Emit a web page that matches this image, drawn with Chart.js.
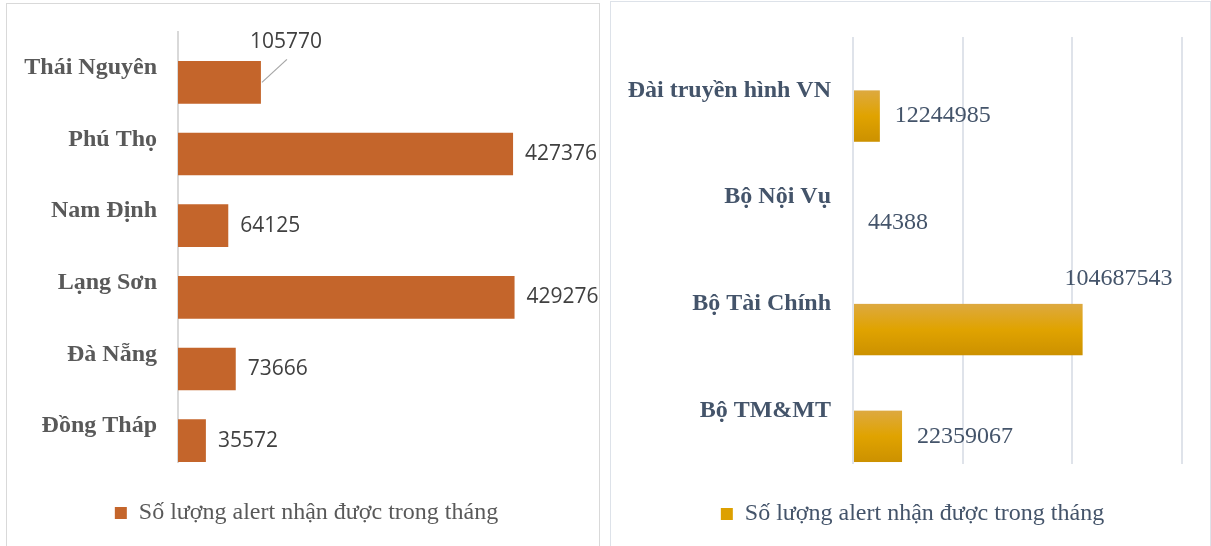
<!DOCTYPE html>
<html>
<head>
<meta charset="UTF-8">
<title>Số lượng alert nhận được trong tháng</title>
<script src="https://cdn.jsdelivr.net/npm/chart.js@4.4.1/dist/chart.umd.min.js"></script>
<style>
  html, body { margin: 0; padding: 0; background: #fff; overflow: hidden; width: 1211px; height: 546px; }
  .panel { position: absolute; height: 560px; }
  #leftPanel { left: 6px; top: 3px; width: 592px; border: 1px solid #d9d9d9; }
  #rightPanel { left: 610px; top: 1px; width: 599px; border: 1px solid #dde2e9; }
  canvas { display: block; }
</style>
</head>
<body>
<div class="panel" id="leftPanel"><canvas id="provinceChart" width="592" height="542"></canvas></div>
<div class="panel" id="rightPanel"><canvas id="agencyChart" width="599" height="544"></canvas></div>

<script>
const seriesName = 'Số lượng alert nhận được trong tháng';

const provinces = ['Thái Nguyên', 'Phú Thọ', 'Nam Định', 'Lạng Sơn', 'Đà Nẵng', 'Đồng Tháp'];
const provinceAlerts = [105770, 427376, 64125, 429276, 73666, 35572];
const provinceAxisMax = 500000;

const agencies = ['Đài truyền hình VN', 'Bộ Nội Vụ', 'Bộ Tài Chính', 'Bộ TM&MT'];
const agencyAlerts = [12244985, 44388, 104687543, 22359067];
const agencyTicks = [0, 50000000, 100000000, 150000000];

// value labels drawn next to each bar (some were moved by hand in the original)
const valueLabels = {
  id: 'valueLabels',
  afterDatasetsDraw(chart, args, opts) {
    const meta = chart.getDatasetMeta(opts.datasetIndex);
    const data = chart.data.datasets[opts.datasetIndex].data;
    const ctx = chart.ctx;
    ctx.save();
    ctx.font = opts.font;
    ctx.fillStyle = opts.color;
    ctx.textBaseline = 'middle';
    meta.data.forEach((el, i) => {
      const text = String(data[i]);
      const moved = opts.moved && opts.moved[i];
      if (moved) {
        const tx = el.x + moved.dx, ty = el.y + moved.dy;
        if (moved.leader) {
          ctx.strokeStyle = '#a6a6a6';
          ctx.lineWidth = 1.2;
          ctx.beginPath();
          ctx.moveTo(el.x + 1, el.y);
          ctx.lineTo(tx + 1, ty + 17);
          ctx.stroke();
        }
        ctx.textAlign = 'center';
        ctx.fillText(text, tx, ty);
      } else {
        ctx.textAlign = 'left';
        ctx.fillText(text, el.x + opts.offset, el.y);
      }
    });
    ctx.restore();
  }
};

// vertical gold gradient on the agency bars
const barGradient = {
  id: 'barGradient',
  afterDatasetDraw(chart, args, opts) {
    if (args.index !== opts.datasetIndex) return;
    const ctx = chart.ctx;
    args.meta.data.forEach(el => {
      const {x, y, base, height} = el.getProps(['x', 'y', 'base', 'height'], true);
      const w = Math.abs(x - base);
      if (w < 1) return;
      const top = y - height / 2;
      const g = ctx.createLinearGradient(0, top, 0, top + height);
      g.addColorStop(0, '#DDA940');
      g.addColorStop(0.5, '#E0A300');
      g.addColorStop(1, '#CC9100');
      ctx.fillStyle = g;
      ctx.fillRect(Math.min(x, base), top, w, height);
    });
  }
};

// nudge the legend sideways so it sits under the middle of the panel
const legendShift = {
  id: 'legendShift',
  afterLayout(chart, args, opts) {
    chart.legend.left += opts.dx;
    chart.legend.right += opts.dx;
  }
};

function fixAxis(width) {
  return scale => {
    scale.width = width;
    scale.paddingTop = 0;
    scale.paddingBottom = 0;
  };
}

new Chart(document.getElementById('provinceChart'), {
  type: 'bar',
  data: {
    labels: provinces,
    datasets: [
      { label: 'spacer', data: provinces.map(() => null) },
      { label: seriesName, data: provinceAlerts, backgroundColor: '#C4652B' }
    ]
  },
  options: {
    indexAxis: 'y',
    responsive: false,
    animation: false,
    events: [],
    categoryPercentage: 0.81,
    barPercentage: 1.47,
    layout: { padding: { top: 28, bottom: 11, left: 0, right: 29 } },
    scales: {
      x: { display: false, min: 0, max: provinceAxisMax },
      y: {
        grid: { display: false, drawTicks: false },
        border: { display: true, color: '#d9d9d9', width: 2 },
        ticks: { color: '#595959', padding: 21, font: { family: 'Liberation Serif', size: 24, weight: 'bold' } },
        afterFit: fixAxis(171)
      }
    },
    plugins: {
      tooltip: { enabled: false },
      legend: {
        position: 'bottom',
        labels: {
          filter: item => item.datasetIndex === 1,
          boxWidth: 12, boxHeight: 12, padding: 39,
          color: '#595959',
          font: { family: 'Liberation Serif', size: 24 }
        }
      },
      legendShift: { dx: 18 },
      valueLabels: {
        datasetIndex: 1,
        font: '21px "Open Sans"',
        color: '#404040',
        offset: 12,
        moved: { 0: { dx: 25, dy: -40, leader: true } }
      }
    }
  },
  plugins: [legendShift, valueLabels]
});

new Chart(document.getElementById('agencyChart'), {
  type: 'bar',
  data: {
    labels: agencies,
    datasets: [
      { label: 'spacer', data: agencies.map(() => null) },
      // bars get their gradient from the barGradient plugin
      { label: seriesName, data: agencyAlerts, backgroundColor: 'rgba(0,0,0,0)' }
    ]
  },
  options: {
    indexAxis: 'y',
    responsive: false,
    animation: false,
    events: [],
    categoryPercentage: 0.963,
    barPercentage: 1,
    layout: { padding: { top: 35, bottom: 10, left: 0, right: 28 } },
    scales: {
      x: {
        min: agencyTicks[0],
        max: agencyTicks[agencyTicks.length - 1],
        ticks: { display: false, stepSize: agencyTicks[1] - agencyTicks[0] },
        grid: { color: '#dfe3ea', lineWidth: 2, drawTicks: false },
        border: { display: false }
      },
      y: {
        grid: { display: false, drawTicks: false },
        border: { display: false },
        ticks: { color: '#44546A', padding: 22, font: { family: 'Liberation Serif', size: 24, weight: 'bold' } },
        afterFit: fixAxis(242)
      }
    },
    plugins: {
      tooltip: { enabled: false },
      legend: {
        position: 'bottom',
        labels: {
          filter: item => item.datasetIndex === 1,
          generateLabels: chart => Chart.defaults.plugins.legend.labels.generateLabels(chart)
            .map(item => Object.assign(item, { fillStyle: '#DDA000', strokeStyle: '#DDA000', lineWidth: 0 })),
          boxWidth: 12, boxHeight: 12, padding: 38,
          color: '#44546A',
          font: { family: 'Liberation Serif', size: 24 }
        }
      },
      legendShift: { dx: 16 },
      barGradient: { datasetIndex: 1 },
      valueLabels: {
        datasetIndex: 1,
        font: '24px "Liberation Serif"',
        color: '#44546A',
        offset: 15,
        moved: { 2: { dx: 36, dy: -51 } }
      }
    }
  },
  plugins: [legendShift, barGradient, valueLabels]
});
</script>
</body>
</html>
